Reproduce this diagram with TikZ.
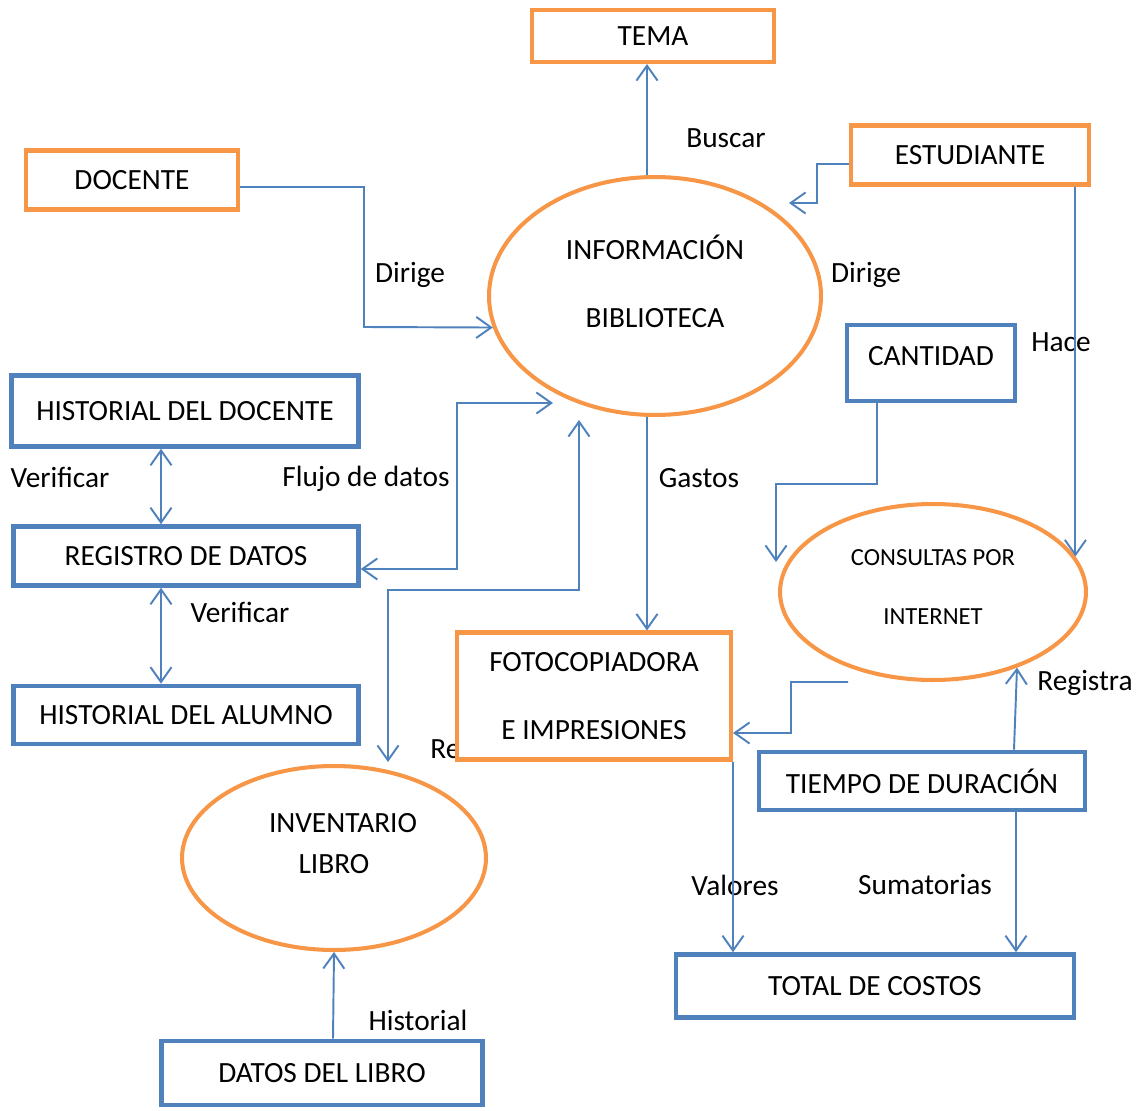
\documentclass[tikz,border=0pt]{standalone}
\usepackage{fontspec}
\setmainfont{Carlito}
\usetikzlibrary{shapes.geometric,arrows.meta}

\definecolor{naranja}{HTML}{F79646}
\definecolor{azul}{HTML}{4F81BD}

\tikzset{
  cajaazul/.style={draw=azul,line width=2.6pt,fill=white,inner sep=0pt},
  cajanaranja/.style={draw=naranja,line width=2.3pt,fill=white,inner sep=0pt},
  proceso/.style={ellipse,draw=naranja,line width=2.3pt,inner sep=0pt,align=center},
  flujo/.style={draw=azul,line width=1.1pt,-{Straight Barb[length=8.5pt,width=12pt]}},
  flujodoble/.style={draw=azul,line width=1.1pt,{Straight Barb[length=8.5pt,width=12pt]}-{Straight Barb[length=8.5pt,width=12pt]}},
  etiqueta/.style={inner sep=0pt}
}

\begin{document}
\begin{tikzpicture}[x=0.02cm,y=-0.02cm,font=\fontsize{16.7}{20}\selectfont]
\useasboundingbox (0,0) rectangle (1145,1111);

% etiquetas de los flujos
\node[etiqueta] (lbuscar) at (726,138) {Buscar};
\node[etiqueta] (ldirige1) at (410,275) {Dirige};
\node[etiqueta] (ldirige2) at (866,275) {Dirige};
\node[etiqueta] (lhace) at (1061,342) {Hace};
\node[etiqueta] (lverif1) at (60,477) {Verificar};
\node[etiqueta] (lflujo) at (366,479) {Flujo de datos};
\node[etiqueta] (lgastos) at (699,478) {Gastos};
\node[etiqueta] (lverif2) at (240,612) {Verificar};
\node[etiqueta,anchor=west] (lre) at (430,749) {Re};
\node[etiqueta] (lregistra) at (1085,683) {Registra};
\node[etiqueta] (lvalores) at (735,885) {Valores};
\node[etiqueta] (lsuma) at (925,885) {Sumatorias};
\node[etiqueta] (lhist) at (418,1020) {Historial};

% entidades y procesos
\node[cajanaranja,minimum width=4.84cm,minimum height=1.04cm] (tema) at (653,36) {TEMA};
\node[cajanaranja,minimum width=4.24cm,minimum height=1.18cm] (docente) at (132,180) {DOCENTE};
\node[cajanaranja,minimum width=4.76cm,minimum height=1.18cm] (estudiante) at (970,155) {ESTUDIANTE};
\node[proceso,minimum width=6.64cm,minimum height=4.76cm,text depth=0.6cm,
  font=\fontsize{16.7}{38.6}\selectfont] (info) at (655,296) {INFORMACIÓN\\BIBLIOTECA};
\node[cajaazul,minimum width=3.36cm,minimum height=1.52cm,text depth=0.28cm] (cantidad) at (931,363) {CANTIDAD};
\node[cajaazul,minimum width=6.94cm,minimum height=1.42cm] (histdoc) at (185,411) {HISTORIAL DEL DOCENTE};
\node[cajaazul,minimum width=6.9cm,minimum height=1.18cm] (registro) at (186,556) {REGISTRO DE DATOS};
\node[cajaazul,minimum width=6.9cm,minimum height=1.16cm] (histalum) at (186,715) {HISTORIAL DEL ALUMNO};
\node[proceso,minimum width=6.12cm,minimum height=3.52cm,text depth=0.2cm,
  font=\fontsize{14}{34}\selectfont] (consultas) at (933,592) {CONSULTAS POR\\INTERNET};
\node[cajanaranja,minimum width=5.48cm,minimum height=2.54cm,align=center,
  font=\fontsize{16.7}{38.6}\selectfont] (foto) at (594,696) {FOTOCOPIADORA\\E IMPRESIONES};
\node[cajaazul,minimum width=6.52cm,minimum height=1.16cm] (tiempo) at (922,781) {TIEMPO DE DURACIÓN};
\node[proceso,minimum width=6.08cm,minimum height=3.68cm,text depth=0.58cm,
  font=\fontsize{16.7}{23.2}\selectfont] (inventario) at (334,858) {\hspace*{0.36cm}INVENTARIO\\LIBRO};
\node[cajaazul,minimum width=7.96cm,minimum height=1.26cm] (total) at (875,986) {TOTAL DE COSTOS};
\node[cajaazul,minimum width=6.42cm,minimum height=1.28cm] (datoslibro) at (322,1073) {DATOS DEL LIBRO};

% extremos libres
\coordinate (estin) at (789,203);
\coordinate (conin) at (776,562);
\coordinate (infoin1) at (553,403);
\coordinate (infoin2) at (579,420);
\coordinate (invin) at (388,762);
\coordinate (conout) at (848,682);

% flujos
\draw[flujo] ([xshift=-0.16cm]info.north) -- ([xshift=-0.16cm]info.north |- tema.south);
\draw[flujo] ([yshift=-0.14cm]docente.east) -| (364,327) -- (info.191);
\draw[flujo] ([yshift=-0.18cm]estudiante.west) -| (817,203) -- (estin);
\draw[flujo] (estudiante.south -| consultas.14) -- (consultas.14);
\draw[flujo] ([xshift=-1.08cm]cantidad.south) |- (776,484) -- (conin);
\draw[flujodoble] ([xshift=-0.48cm]histdoc.south) -- ([xshift=-0.5cm]registro.north);
\draw[flujodoble] ([xshift=-0.5cm]registro.south) -- ([xshift=-0.5cm]histalum.north);
\draw[flujodoble] ([yshift=-0.26cm]registro.east) -| (457,403) -- (infoin1);
\draw[flujodoble] (infoin2) |- (388,590) -- (invin);
\draw[flujo] ([xshift=-0.16cm]info.south) -- ([xshift=-0.16cm]info.south |- foto.north);
\draw[flujo] (conout) -| (791,733) -- ([yshift=-0.74cm]foto.east);
\draw[flujo] ([xshift=1.84cm]tiempo.north) -- (consultas.318);
\draw[flujo] (foto.south east) -- (foto.south east |- total.north);
\draw[flujo] ([xshift=1.88cm]tiempo.south) -- ([xshift=1.88cm]tiempo.south |- total.north);
\draw[flujo] ([xshift=0.22cm]datoslibro.north) -- (inventario.south);
\end{tikzpicture}
\end{document}
